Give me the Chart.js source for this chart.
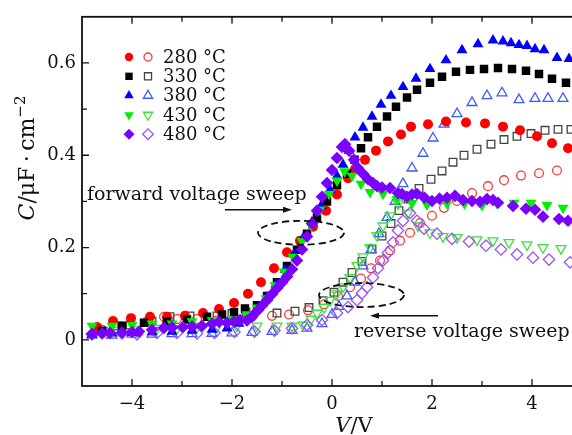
<!DOCTYPE html>
<html>
<head>
<meta charset="utf-8">
<script src="https://cdn.jsdelivr.net/npm/chart.js@4.4.1/dist/chart.umd.min.js"></script>
<style>
  html, body { margin: 0; padding: 0; background: #fff; overflow: hidden; }
  #wrap { width: 620px; height: 435px; }
</style>
</head>
<body>
<div id="wrap"><canvas id="cv" width="620" height="435"></canvas></div>
<script>
const temps = ["280", "330", "380", "430", "480"];
const xTicks = [-4, -2, 0, 2, 4];
const yTicks = [0, 0.2, 0.4, 0.6];

// forward sweep (filled marks), [V, C]
const fwd280 = [[-4.7,.028],[-4.38,.041],[-4.02,.047],[-3.64,.05],[-3.3,.05],[-2.94,.052],[-2.58,.058],[-2.26,.067],[-1.96,.08],[-1.68,.1],[-1.42,.125],[-1.16,.155],[-0.9,.19],[-0.64,.215],[-0.38,.245],[-0.12,.28],[0.1,.315],[0.32,.35],[0.46,.37],[0.66,.39],[0.88,.41],[1.12,.43],[1.38,.445],[1.58,.462],[1.92,.467],[2.28,.473],[2.68,.471],[3.06,.469],[3.42,.462],[3.76,.454],[4.1,.441],[4.4,.426],[4.72,.415]];
const fwd330 = [[-4.6,.02],[-4.2,.03],[-3.76,.037],[-3.3,.04],[-2.9,.044],[-2.5,.05],[-2.2,.055],[-1.96,.06],[-1.74,.068],[-1.5,.075],[-1.3,.095],[-1.1,.125],[-0.9,.16],[-0.7,.195],[-0.5,.23],[-0.3,.265],[-0.1,.3],[0.1,.335],[0.3,.36],[0.45,.39],[0.58,.415],[0.72,.439],[0.9,.462],[1.1,.484],[1.28,.505],[1.5,.525],[1.7,.542],[1.96,.557],[2.2,.57],[2.48,.581],[2.76,.585],[3.04,.587],[3.32,.589],[3.6,.587],[3.88,.583],[4.14,.576],[4.4,.566],[4.68,.557]];
const fwd380 = [[-4.8,.012],[-4.4,.014],[-4.0,.015],[-3.6,.017],[-3.2,.018],[-2.8,.02],[-2.4,.022],[-2.1,.025],[-1.86,.035],[-1.66,.05],[-1.46,.07],[-1.3,.092],[-1.12,.12],[-0.94,.152],[-0.76,.186],[-0.58,.22],[-0.4,.255],[-0.22,.29],[-0.04,.325],[0.1,.355],[0.22,.38],[0.34,.41],[0.46,.439],[0.62,.46],[0.8,.484],[0.98,.51],[1.18,.529],[1.42,.548],[1.68,.566],[1.96,.587],[2.28,.606],[2.6,.628],[2.92,.641],[3.22,.649],[3.42,.647],[3.58,.643],[3.74,.639],[3.9,.637],[4.06,.63],[4.24,.628],[4.5,.611],[4.74,.609]];
const fwd430 = [[-4.8,.03],[-4.4,.03],[-4.0,.032],[-3.6,.035],[-3.2,.035],[-2.8,.04],[-2.4,.042],[-2.0,.045],[-1.7,.055],[-1.5,.07],[-1.32,.09],[-1.14,.118],[-0.96,.148],[-0.78,.18],[-0.6,.214],[-0.42,.248],[-0.24,.282],[-0.06,.316],[0.1,.345],[0.25,.365],[0.4,.355],[0.58,.338],[0.76,.32],[1.02,.316],[1.3,.305],[1.6,.296],[1.9,.293],[2.3,.295],[2.65,.295],[3.0,.292],[3.3,.296],[3.64,.297],[3.98,.297],[4.3,.292],[4.62,.286]];
const fwd480 = [[-4.8,.013],[-4.6,.014],[-4.44,.015],[-4.2,.016],[-4.0,.017],[-3.86,.018],[-3.6,.022],[-3.36,.026],[-3.2,.027],[-2.98,.028],[-2.8,.029],[-2.6,.03],[-2.4,.035],[-2.26,.039],[-2.1,.037],[-1.96,.04],[-1.84,.043],[-1.7,.042],[-1.6,.05],[-1.5,.062],[-1.4,.074],[-1.3,.086],[-1.2,.099],[-1.1,.112],[-1.0,.124],[-0.9,.137],[-0.8,.153],[-0.7,.172],[-0.6,.196],[-0.5,.224],[-0.4,.252],[-0.3,.28],[-0.2,.31],[-0.1,.34],[0.0,.368],[0.1,.394],[0.2,.418],[0.26,.424],[0.34,.41],[0.44,.39],[0.52,.372],[0.62,.36],[0.72,.348],[0.82,.34],[0.9,.333],[1.0,.33],[1.16,.329],[1.32,.318],[1.4,.316],[1.5,.31],[1.6,.315],[1.7,.316],[1.85,.308],[2.0,.301],[2.15,.306],[2.3,.308],[2.46,.312],[2.62,.303],[2.8,.301],[2.96,.299],[3.1,.305],[3.22,.303],[3.32,.297],[3.62,.29],[3.88,.284],[4.06,.282],[4.22,.267],[4.54,.262],[4.72,.258]];

// reverse sweep (hollow marks), [V, C]
const rev280 = [[-4.6,.022],[-4.2,.03],[-3.7,.04],[-3.36,.05],[-3.3,.038],[-3.1,.045],[-2.7,.045],[-2.3,.042],[-1.6,.05],[-1.2,.052],[-0.86,.055],[-0.48,.064],[-0.16,.077],[0.12,.095],[0.36,.114],[0.58,.133],[0.78,.155],[0.96,.172],[1.16,.194],[1.36,.215],[1.56,.232],[1.76,.253],[2.0,.269],[2.24,.286],[2.5,.301],[2.8,.318],[3.12,.333],[3.44,.346],[3.78,.356],[4.14,.361],[4.5,.367]];
const rev330 = [[-4.7,.025],[-4.3,.03],[-4.04,.032],[-3.6,.04],[-3.24,.05],[-2.84,.052],[-2.3,.052],[-2.0,.057],[-1.72,.06],[-1.1,.058],[-0.74,.062],[-0.46,.07],[-0.18,.085],[0.04,.103],[0.22,.125],[0.4,.146],[0.6,.17],[0.8,.197],[1.0,.225],[1.18,.252],[1.34,.28],[1.52,.305],[1.74,.328],[1.98,.348],[2.2,.366],[2.42,.385],[2.64,.4],[2.9,.413],[3.18,.424],[3.44,.434],[3.7,.441],[3.98,.447],[4.26,.454],[4.52,.456],[4.78,.456]];
const rev380 = [[-4.8,.01],[-4.4,.01],[-4.0,.012],[-3.6,.012],[-3.2,.013],[-2.8,.013],[-2.4,.014],[-2.0,.015],[-1.6,.016],[-1.2,.018],[-0.8,.02],[-0.5,.025],[-0.2,.035],[0.0,.055],[0.14,.072],[0.3,.095],[0.46,.125],[0.62,.16],[0.78,.195],[0.94,.23],[1.1,.265],[1.26,.3],[1.42,.338],[1.6,.372],[1.82,.404],[2.02,.437],[2.24,.467],[2.5,.49],[2.8,.514],[3.1,.529],[3.4,.535],[3.74,.52],[4.06,.523],[4.32,.523],[4.62,.523]];
const rev430 = [[-4.7,.025],[-4.3,.02],[-3.9,.022],[-3.5,.025],[-3.1,.025],[-2.7,.028],[-2.3,.028],[-1.9,.03],[-1.5,.03],[-1.1,.03],[-0.8,.03],[-0.58,.032],[-0.42,.045],[-0.3,.058],[-0.16,.07],[-0.04,.086],[0.1,.1],[0.22,.115],[0.36,.135],[0.5,.161],[0.62,.18],[0.76,.2],[0.9,.226],[1.02,.247],[1.16,.269],[1.32,.295],[1.52,.275],[1.72,.247],[1.96,.232],[2.22,.224],[2.5,.222],[2.9,.217],[3.22,.215],[3.54,.211],[3.9,.206],[4.22,.2],[4.58,.198]];
const rev480 = [[-4.8,.012],[-4.5,.015],[-4.2,.014],[-3.9,.012],[-3.5,.015],[-3.1,.015],[-2.7,.014],[-2.35,.015],[-1.95,.017],[-1.55,.018],[-1.15,.02],[-0.8,.025],[-0.5,.032],[-0.2,.043],[0.1,.058],[0.32,.071],[0.5,.086],[0.6,.101],[0.7,.114],[0.82,.135],[0.92,.155],[1.02,.172],[1.12,.189],[1.22,.211],[1.32,.237],[1.42,.258],[1.56,.275],[1.7,.258],[1.84,.241],[2.1,.23],[2.4,.219],[2.74,.213],[3.08,.204],[3.38,.196],[3.7,.185],[4.02,.178],[4.34,.174],[4.76,.168]];

const serif = "'DejaVu Serif', serif";
const ink = "#111";

// one style per temperature: filled colour, hollow colour, marker
const styles = [
  { fill: "#ff0000", line: "#ff3838", shape: "circle", rot: 0, r: 5 },
  { fill: "#000000", line: "#444444", shape: "rect", rot: 0, r: 6 },
  { fill: "#0000ff", line: "#3a5aff", shape: "triangle", rot: 0, r: 6.3 },
  { fill: "#00f000", line: "#3fe040", shape: "triangle", rot: 180, r: 6.3 },
  { fill: "#7a00ff", line: "#9a55f0", shape: "rectRot", rot: 0, r: 6.3 },
];
const forward = [fwd280, fwd330, fwd380, fwd430, fwd480];
const reverse = [rev280, rev330, rev380, rev430, rev480];

const toXY = (arr) => arr.map(([x, y]) => ({ x, y }));

const datasets = [];
temps.forEach((t, i) => {
  const s = styles[i];
  datasets.push({
    label: t + " °C forward",
    data: toXY(forward[i]),
    pointStyle: s.shape,
    rotation: s.rot,
    pointRadius: s.r,
    backgroundColor: s.fill,
    borderColor: s.fill,
    borderWidth: 0,
    order: 4 - i,
  });
  datasets.push({
    label: t + " °C reverse",
    data: toXY(reverse[i]),
    pointStyle: s.shape,
    rotation: s.rot,
    pointRadius: s.r - 0.6,
    backgroundColor: "rgba(0,0,0,0)",
    borderColor: s.line,
    borderWidth: 1.3,
    order: 9 - i,
  });
});

const fmt = (v) => (v < 0 ? "\u2212" + Math.abs(v) : String(v));

// frame with inward ticks, legend, axis titles and sweep notes
const decor = {
  id: "decor",
  afterDraw(chart) {
    const { ctx, chartArea: a, scales: { x, y } } = chart;
    ctx.save();
    ctx.strokeStyle = ink;
    ctx.fillStyle = ink;

    ctx.lineWidth = 1.8;
    ctx.strokeRect(a.left, a.top, a.right - a.left, a.bottom - a.top);
    ctx.lineWidth = 1.3;
    ctx.beginPath();
    for (let v = -4; v <= 5; v++) {
      const px = x.getPixelForValue(v);
      const len = v % 2 === 0 ? 7 : 5;
      ctx.moveTo(px, a.bottom); ctx.lineTo(px, a.bottom - len);
      ctx.moveTo(px, a.top); ctx.lineTo(px, a.top + len);
    }
    for (let k = 0; k <= 6; k++) {
      const py = y.getPixelForValue(k / 10);
      const len = k % 2 === 0 ? 7 : 5;
      ctx.moveTo(a.left, py); ctx.lineTo(a.left + len, py);
    }
    ctx.stroke();

    // legend: filled + hollow mark then temperature
    const lx = 129, ly = 57, gap = 19.3;
    temps.forEach((t, i) => {
      const s = styles[i];
      const yy = ly + i * gap;
      ctx.fillStyle = s.fill;
      Chart.helpers.drawPoint(ctx, { pointStyle: s.shape, rotation: s.rot, radius: s.r - 0.8, borderWidth: 0 }, lx, yy);
      ctx.fillStyle = "rgba(0,0,0,0)";
      ctx.strokeStyle = s.line;
      ctx.lineWidth = 1.3;
      Chart.helpers.drawPoint(ctx, { pointStyle: s.shape, rotation: s.rot, radius: s.r - 1, borderWidth: 1.3 }, lx + 19, yy);
      ctx.fillStyle = ink;
      ctx.font = "18px " + serif;
      ctx.textBaseline = "middle";
      ctx.fillText(t + " °C", lx + 34, yy + 1);
    });
    ctx.strokeStyle = ink;
    ctx.fillStyle = ink;

    // x title: V/V
    ctx.textBaseline = "alphabetic";
    ctx.font = "italic 21px " + serif;
    const wV = ctx.measureText("V").width;
    ctx.font = "21px " + serif;
    const wRest = ctx.measureText("/V").width;
    let tx = 354 - (wV + wRest) / 2;
    ctx.font = "italic 21px " + serif;
    ctx.fillText("V", tx, 432);
    ctx.font = "21px " + serif;
    ctx.fillText("/V", tx + wV, 432);

    // y title: C/μF·cm^-2, rotated
    ctx.save();
    ctx.translate(34, 158);
    ctx.rotate(-Math.PI / 2);
    const parts = [
      ["italic 22px " + serif, "C", 0],
      ["22px " + serif, "/\u03bcF\u2009\u00b7\u2009cm", 0],
      ["15px " + serif, "\u22122", -9],
    ];
    let total = 0;
    parts.forEach((p) => { ctx.font = p[0]; total += ctx.measureText(p[1]).width; });
    let cx = -total / 2;
    parts.forEach((p) => {
      ctx.font = p[0];
      ctx.fillText(p[1], cx, p[2]);
      cx += ctx.measureText(p[1]).width;
    });
    ctx.restore();

    // sweep direction notes
    ctx.font = "19px " + serif;
    ctx.fillText("forward voltage sweep", x.getPixelForValue(-4.9), y.getPixelForValue(0.303));
    ctx.fillText("reverse voltage sweep", x.getPixelForValue(0.44), y.getPixelForValue(0.006));

    const arrow = (v0, v1, c) => {
      const x0 = x.getPixelForValue(v0), x1 = x.getPixelForValue(v1), py = y.getPixelForValue(c);
      const dir = Math.sign(x1 - x0);
      ctx.lineWidth = 1.5;
      ctx.beginPath();
      ctx.moveTo(x0, py); ctx.lineTo(x1 - dir * 6, py);
      ctx.stroke();
      ctx.beginPath();
      ctx.moveTo(x1, py);
      ctx.lineTo(x1 - dir * 9, py - 3);
      ctx.lineTo(x1 - dir * 9, py + 3);
      ctx.closePath();
      ctx.fill();
    };
    arrow(-2.14, -0.8, 0.282);
    arrow(2.12, 0.76, 0.052);

    const ring = (v, c, rv, rc) => {
      const cxp = x.getPixelForValue(v), cyp = y.getPixelForValue(c);
      const rx = x.getPixelForValue(v + rv) - cxp, ry = cyp - y.getPixelForValue(c + rc);
      ctx.lineWidth = 1.8;
      ctx.setLineDash([7, 4]);
      ctx.beginPath();
      ctx.ellipse(cxp, cyp, rx, ry, 0, 0, Math.PI * 2);
      ctx.stroke();
      ctx.setLineDash([]);
    };
    ring(-0.62, 0.232, 0.86, 0.026);
    ring(0.59, 0.097, 0.85, 0.026);

    ctx.restore();
  },
};

new Chart(document.getElementById("cv"), {
  type: "scatter",
  data: { datasets },
  options: {
    responsive: false,
    animation: false,
    devicePixelRatio: 1,
    layout: { padding: { top: 15, right: 13, left: 0, bottom: 0 } },
    plugins: { legend: { display: false }, tooltip: { enabled: false } },
    scales: {
      x: {
        type: "linear",
        min: -5,
        max: 5.5,
        grid: { display: false, drawTicks: false },
        border: { display: false },
        afterBuildTicks: (ax) => { ax.ticks = xTicks.map((v) => ({ value: v })); },
        afterFit: (ax) => { ax.height = 49; },
        ticks: { color: ink, font: { family: serif, size: 18 }, padding: 8, maxRotation: 0, callback: fmt },
      },
      y: {
        type: "linear",
        min: -0.1,
        max: 0.7,
        grid: { display: false, drawTicks: false },
        border: { display: false },
        afterBuildTicks: (ax) => { ax.ticks = yTicks.map((v) => ({ value: v })); },
        afterFit: (ax) => { ax.width = 82; },
        ticks: { color: ink, font: { family: serif, size: 18 }, padding: 6, callback: fmt },
      },
    },
  },
  plugins: [decor],
});
</script>
</body>
</html>
